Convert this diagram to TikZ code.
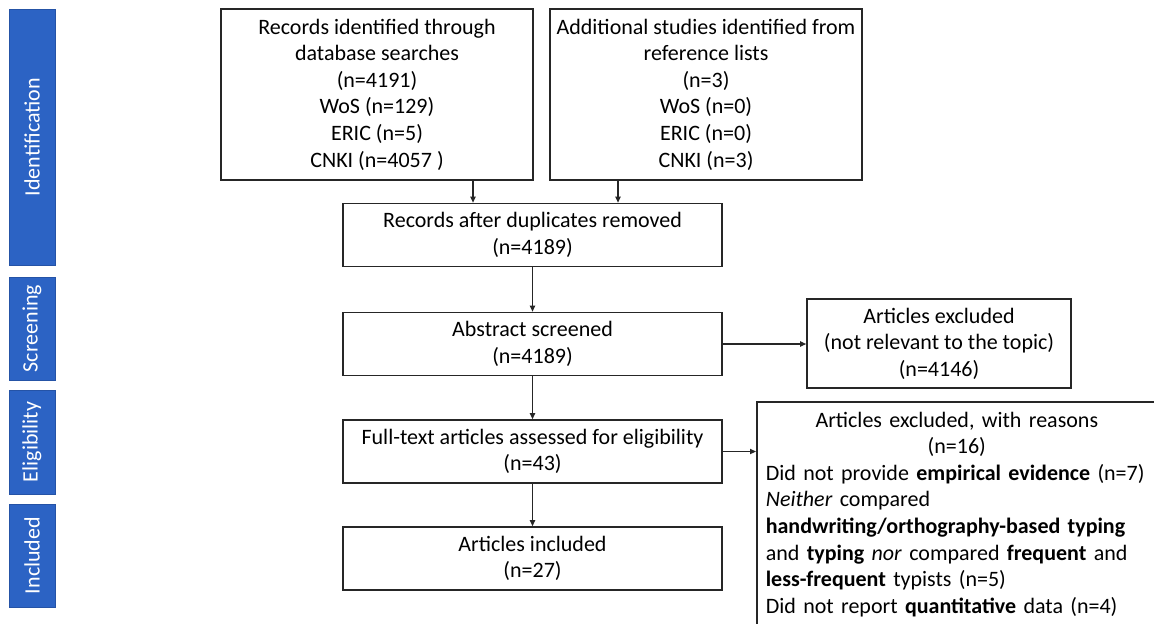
\documentclass[tikz,border=0pt]{standalone}
\usepackage{fontspec}
\setmainfont{Carlito}
\usetikzlibrary{arrows.meta,positioning}
\definecolor{PhaseBlue}{HTML}{2C63C4}
\definecolor{PhaseBlueDark}{HTML}{2553A6}
\definecolor{FlowLine}{HTML}{262626}

\begin{document}
\begin{tikzpicture}[x=0.5pt, y=-0.5pt,
  txt/.style={font=\fontsize{11}{13.3}\selectfont},
  box/.style={txt, draw=FlowLine, line width=0.8pt, align=center, inner sep=2pt},
  mainbox/.style={box, minimum width=189.5pt, minimum height=31.5pt},
  phase/.style={fill=PhaseBlue, draw=PhaseBlueDark, line width=0.4pt, minimum width=23pt,
    text=white, font=\fontsize{11}{12}\selectfont, inner sep=0pt},
  flow/.style={-{Triangle[length=3pt,width=2.6pt]}, line width=0.6pt, FlowLine}]
  \useasboundingbox (0,0) rectangle (1154,623);

  % Phase bars on the left
  \node[phase, minimum height=128pt] (idbar) at (32,137) {\rotatebox{90}{Identification}};
  \node[phase, minimum height=51.5pt] (scbar) at (32,328.5) {\rotatebox{90}{Screening}};
  \node[phase, minimum height=52pt] (elbar) at (32,442) {\rotatebox{90}{Eligibility}};
  \node[phase, minimum height=51.5pt] (inbar) at (32,555.5) {\rotatebox{90}{Included}};

  % Identification
  \node[box, minimum width=156pt, minimum height=85.5pt] (dbrec) at (377,94.5)
    {Records identified through\\database searches\\(n=4191)\\WoS (n=129)\\ERIC (n=5)\\CNKI (n=4057 )};
  \node[box, minimum width=156pt, minimum height=85.5pt] (refrec) at (706,94.5)
    {Additional studies identified from\\reference lists\\(n=3)\\WoS (n=0)\\ERIC (n=0)\\CNKI (n=3)};
  \node[mainbox] (dedup) at (532.5,235) {Records after duplicates removed\\(n=4189)};

  % Screening and eligibility
  \node[mainbox] (abstr) at (532.5,344) {Abstract screened\\(n=4189)};
  \node[box, minimum width=132pt, minimum height=44.5pt] (exclA) at (939,343.5)
    {Articles excluded\\(not relevant to the topic)\\(n=4146)};
  \node[mainbox] (fulltxt) at (532.5,451.5) {Full-text articles assessed for eligibility\\(n=43)};
  \node[box, anchor=north west, align=left, text width=191pt, inner xsep=4.5pt, inner ysep=5pt]
    (exclB) at (756,401)
    {\makebox[191pt]{Articles excluded, with reasons}\\
     \makebox[191pt]{(n=16)}\\
     Did not provide \textbf{empirical evidence} (n=7)\\
     \textit{Neither} compared\\
     \textbf{handwriting/orthography-based typing}\\
     and \textbf{typing} \textit{nor} compared \textbf{frequent} and\\
     \textbf{less-frequent} typists (n=5)\\
     Did not report \textbf{quantitative} data (n=4)\rule[-12pt]{0pt}{12pt}};

  % Included
  \node[mainbox] (incl) at (532.5,558.5) {Articles included\\(n=27)};

  % Connectors
  \coordinate (dbdrop) at (473,0);
  \coordinate (refdrop) at (618,0);
  \draw[flow] (dbrec.south -| dbdrop) -- (dedup.north -| dbdrop);
  \draw[flow] (refrec.south -| refdrop) -- (dedup.north -| refdrop);
  \draw[flow] (dedup) -- (abstr);
  \draw[flow] (abstr) -- (fulltxt);
  \draw[flow] (fulltxt) -- (incl);
  \draw[flow] (abstr.east) -- (abstr.east -| exclA.west);
  \draw[flow] (fulltxt.east) -- (fulltxt.east -| exclB.west);
\end{tikzpicture}
\end{document}
